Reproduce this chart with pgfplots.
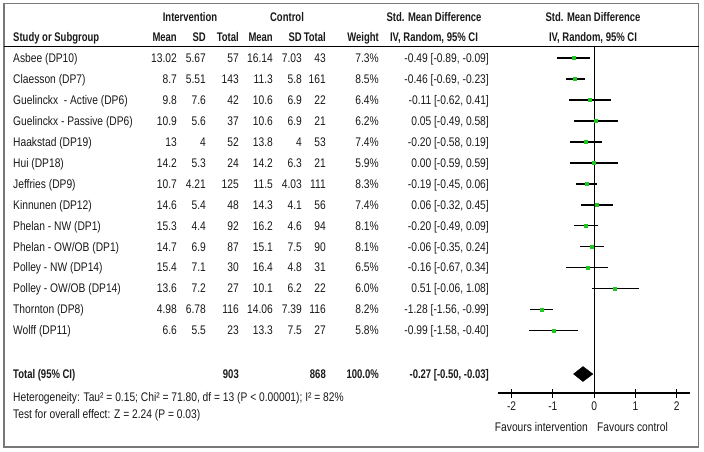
\documentclass[border=0pt]{standalone}
\usepackage{pgfplots}
\pgfplotsset{compat=1.18}
\usepackage{pgfplotstable}
\usepackage{fontspec}
\setmainfont{Liberation Sans}[FakeStretch=0.82, BoldFeatures={FakeStretch=0.76}]
\definecolor{mkgreen}{RGB}{30,200,30}
\definecolor{framegray}{RGB}{120,120,120}
\definecolor{txt}{RGB}{25,25,25}

\pgfplotstableread{
e      m     p     y
-0.49  0.40  0.40  -58.0
-0.46  0.23  0.23  -79.0
-0.11  0.51  0.52  -99.9
0.05   0.54  0.53  -120.9
-0.20  0.38  0.39  -141.8
0.00   0.59  0.59  -162.8
-0.19  0.26  0.25  -183.7
0.06   0.38  0.39  -204.7
-0.20  0.29  0.29  -225.6
-0.06  0.29  0.30  -246.6
-0.16  0.51  0.50  -267.5
0.51   0.57  0.57  -288.5
-1.28  0.28  0.29  -309.4
-0.99  0.59  0.59  -330.4
}\studies

\newcommand{\row}[9]{%
  \node[anchor=base west] at (13,#1+4.5) {#2};
  \node[anchor=base east] at (177,#1+4.5) {#3};
  \node[anchor=base east] at (206,#1+4.5) {#4};
  \node[anchor=base east] at (239,#1+4.5) {#5};
  \node[anchor=base east] at (273,#1+4.5) {#6};
  \node[anchor=base east] at (302,#1+4.5) {#7};
  \node[anchor=base east] at (326,#1+4.5) {#8};
  \node[anchor=base east] at (379,#1+4.5) {#9};
}
\newcommand{\ci}[2]{\node[anchor=base east] at (489,#1+4.5) {#2};}
\newcommand{\fnt}{\fontsize{12.5bp}{14bp}\selectfont}

\begin{document}
\begin{tikzpicture}[x=1bp,y=-1bp,
  every node/.style={inner sep=0pt, text=txt, font=\fnt}]
\path (0,0) rectangle (704,452);
\draw[framegray, line width=1.5bp] (4,3.5) rectangle (698.5,447);
\draw[black, line width=1bp] (4,47) -- (698.5,47);

% headers
\begin{scope}[every node/.append style={font=\fnt\bfseries}]
\node[anchor=base] at (190,21.5) {Intervention};
\node[anchor=base] at (287,21.5) {Control};
\node[anchor=base] at (434,21.5) {Std. Mean Difference};
\node[anchor=base] at (593,21.5) {Std. Mean Difference};
\row{37}{Study or Subgroup}{Mean}{SD}{Total}{Mean}{SD}{Total}{Weight}
\node[anchor=base] at (434,41.5) {IV, Random, 95\% CI};
\node[anchor=base] at (593,41.5) {IV, Random, 95\% CI};
\end{scope}

\row{58.0}{Asbee (DP10)}{13.02}{5.67}{57}{16.14}{7.03}{43}{7.3\%}
\row{79.0}{Claesson (DP7)}{8.7}{5.51}{143}{11.3}{5.8}{161}{8.5\%}
\row{99.9}{Guelinckx\ \ - Active (DP6)}{9.8}{7.6}{42}{10.6}{6.9}{22}{6.4\%}
\row{120.9}{Guelinckx - Passive (DP6)}{10.9}{5.6}{37}{10.6}{6.9}{21}{6.2\%}
\row{141.8}{Haakstad (DP19)}{13}{4}{52}{13.8}{4}{53}{7.4\%}
\row{162.8}{Hui (DP18)}{14.2}{5.3}{24}{14.2}{6.3}{21}{5.9\%}
\row{183.7}{Jeffries (DP9)}{10.7}{4.21}{125}{11.5}{4.03}{111}{8.3\%}
\row{204.7}{Kinnunen (DP12)}{14.6}{5.4}{48}{14.3}{4.1}{56}{7.4\%}
\row{225.6}{Phelan - NW (DP1)}{15.3}{4.4}{92}{16.2}{4.6}{94}{8.1\%}
\row{246.6}{Phelan - OW/OB (DP1)}{14.7}{6.9}{87}{15.1}{7.5}{90}{8.1\%}
\row{267.5}{Polley - NW (DP14)}{15.4}{7.1}{30}{16.4}{4.8}{31}{6.5\%}
\row{288.5}{Polley - OW/OB (DP14)}{13.6}{7.2}{27}{10.1}{6.2}{22}{6.0\%}
\row{309.4}{Thornton (DP8)}{4.98}{6.78}{116}{14.06}{7.39}{116}{8.2\%}
\row{330.4}{Wolff (DP11)}{6.6}{5.5}{23}{13.3}{7.5}{27}{5.8\%}

\ci{58.0}{-0.49 [-0.89, -0.09]}
\ci{79.0}{-0.46 [-0.69, -0.23]}
\ci{99.9}{-0.11 [-0.62, 0.41]}
\ci{120.9}{0.05 [-0.49, 0.58]}
\ci{141.8}{-0.20 [-0.58, 0.19]}
\ci{162.8}{0.00 [-0.59, 0.59]}
\ci{183.7}{-0.19 [-0.45, 0.06]}
\ci{204.7}{0.06 [-0.32, 0.45]}
\ci{225.6}{-0.20 [-0.49, 0.09]}
\ci{246.6}{-0.06 [-0.35, 0.24]}
\ci{267.5}{-0.16 [-0.67, 0.34]}
\ci{288.5}{0.51 [-0.06, 1.08]}
\ci{309.4}{-1.28 [-1.56, -0.99]}
\ci{330.4}{-0.99 [-1.58, -0.40]}

\begin{scope}[every node/.append style={font=\fnt\bfseries}]
\row{374}{Total (95\% CI)}{}{}{903}{}{}{868}{100.0\%}
\ci{374}{-0.27 [-0.50, -0.03]}
\end{scope}
\node[anchor=base west] at (13,401.5) {Heterogeneity: Tau² = 0.15; Chi² = 71.80, df = 13 (P < 0.00001); I² = 82\%};
\node[anchor=base west] at (13,418.5) {Test for overall effect: Z = 2.24 (P = 0.03)};
\node[anchor=base east] at (588,431.5) {Favours intervention};
\node[anchor=base west] at (597,431.5) {Favours control};

\begin{axis}[at={(498bp,-393bp)}, anchor=south west,
  x=41.25bp, y=1bp,
  xmin=-2.33, xmax=2.33, ymin=-393, ymax=-47,
  axis x line=bottom, axis y line=none,
  x axis line style={-, line width=1.5bp},
  xtick={-2,-1,0,1,2}, xticklabels={-2,-1,0,1,2},
  tick align=center, major tick length=9bp,
  tick style={black, line width=0.9bp},
  xticklabel style={font=\fnt, text=txt, inner sep=0pt, yshift=-4bp},
  clip=false]
\addplot[black, line width=0.8bp] coordinates {(0,-47) (0,-393)};
\addplot[only marks, mark=square*, mark size=1.5bp, mkgreen,
  error bars/.cd, x dir=both, x explicit, error mark=none,
  error bar style={black, line width=1.7bp}]
  table[x=e, y=y, x error plus=p, x error minus=m] {\studies};
\addplot[fill=black, draw=black] coordinates
  {(-0.50,-374) (-0.27,-366.5) (-0.03,-374) (-0.27,-381.5)} -- cycle;
\end{axis}
\end{tikzpicture}
\end{document}
